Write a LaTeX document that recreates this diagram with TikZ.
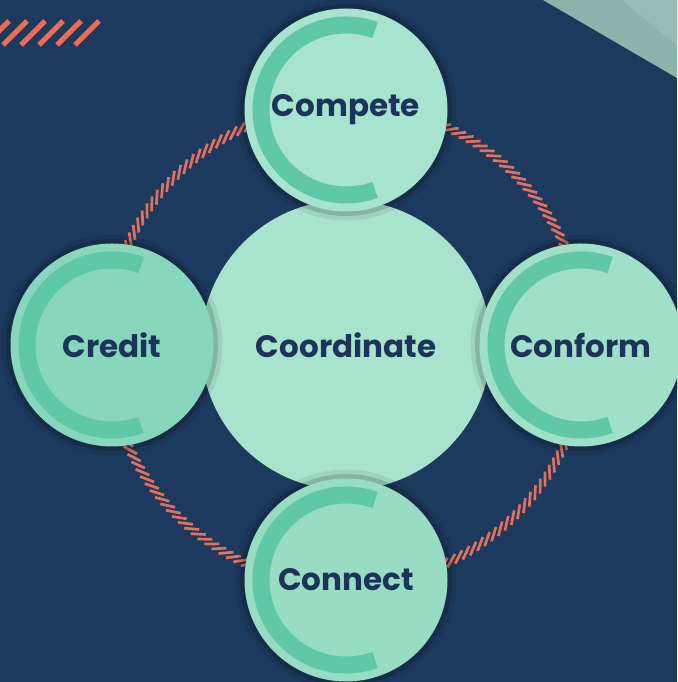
\documentclass[tikz,border=0pt]{standalone}
\usepackage{fontspec}
\setmainfont{Poppins}
\definecolor{navy}{HTML}{1C3A5E}
\definecolor{ink}{HTML}{1A3558}
\definecolor{coral}{HTML}{E4705C}
\definecolor{veil}{HTML}{8DB3AC}
\definecolor{veillight}{HTML}{97BCB5}
\definecolor{hubfill}{HTML}{A9E3CD}
\definecolor{mintA}{HTML}{A8E3CF}
\definecolor{mintB}{HTML}{88D6BB}
\definecolor{mintC}{HTML}{A0DFC8}
\definecolor{mintD}{HTML}{98DCC3}
\definecolor{arcfill}{HTML}{60C8A6}
\begin{document}
\begin{tikzpicture}[x=1pt,y=1pt]
  \tikzstyle{bubble}=[circle, inner sep=0pt, minimum size=203pt, text=ink,
                      font=\bfseries\fontsize{31}{34}\selectfont,
                      preaction={draw=black, draw opacity=0.07, line width=18pt},
                      preaction={draw=black, draw opacity=0.14, line width=9pt}]
  \tikzstyle{hub}=[circle, inner sep=0pt, minimum size=290pt, fill=hubfill,
                   text=ink, font=\bfseries\fontsize{31}{34}\selectfont]
  \tikzstyle{hatch}=[draw=coral, line width=2.7pt]
  \tikzstyle{carc}=[draw=arcfill, line width=17pt]

  \fill[navy] (0,0) rectangle (677,682);
  \useasboundingbox (0,0) rectangle (677,682);
  \fill[veil] (543,682) -- (677,682) -- (677,604) -- cycle;
  \fill[veillight] (622,682) -- (677,682) -- (677,636) -- cycle;
  % corner stripes
  \foreach \x in {-3,15,...,87}
    \draw[coral, line width=5pt] (\x-12,637) -- (\x+12,661);

  \coordinate (mid) at (346,337);
  % striped ring
  \foreach \i in {0,...,179}
    \draw[hatch] (mid) ++(\i*2:240) ++(\i*2-55:-7.5) -- ++(\i*2-55:15);

  \node[hub] (coord) at (mid) {Coordinate};
  \node[bubble, fill=mintA] (compete) at (346,572) {Compete};
  \node[bubble, fill=mintB] (credit)  at (112,337) {Credit};
  \node[bubble, fill=mintC] (conform) at (581,337) {Conform};
  \node[bubble, fill=mintD] (connect) at (346,102) {Connect};

  \foreach \n in {compete, credit, conform, connect}
    \draw[carc] (\n.center) ++(70:85) arc (70:290:85);
\end{tikzpicture}
\end{document}
